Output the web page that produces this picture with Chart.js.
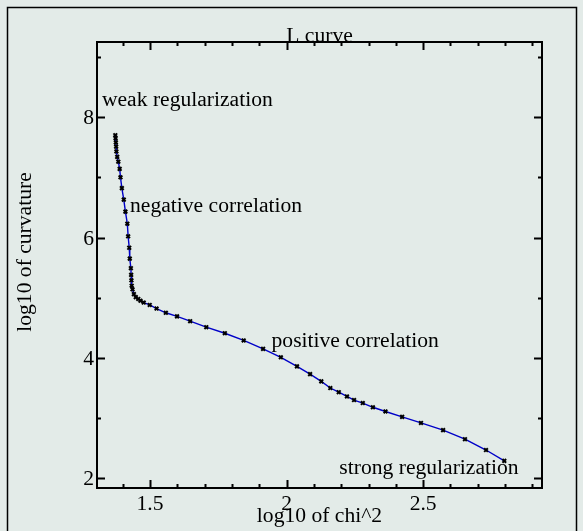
<!DOCTYPE html>
<html>
<head>
<meta charset="utf-8">
<script src="https://cdn.jsdelivr.net/npm/chart.js@4.4.0/dist/chart.umd.min.js"></script>
<style>
html, body { margin: 0; padding: 0; background: #e3ebe8; }
#wrap { width: 583px; height: 531px; }
</style>
</head>
<body>
<div id="wrap"><canvas id="lcurve" width="583" height="531"></canvas></div>
<script>
// log10 of chi^2 for each regularization step
const chiValues = [
  1.373, 1.374, 1.375, 1.376, 1.377, 1.380, 1.384, 1.389, 1.392, 1.397,
  1.404, 1.410, 1.417, 1.420, 1.424, 1.426, 1.430, 1.431, 1.432, 1.433,
  1.436, 1.441, 1.448, 1.457, 1.465, 1.477, 1.499, 1.524, 1.558, 1.599,
  1.647, 1.706, 1.774, 1.843, 1.914, 1.979, 2.038, 2.086, 2.127, 2.160,
  2.191, 2.221, 2.247, 2.279, 2.316, 2.362, 2.423, 2.492, 2.573, 2.653,
  2.730, 2.797
];
// log10 of curvature
const curvValues = [
  7.70, 7.65, 7.58, 7.51, 7.43, 7.34, 7.26, 7.14, 7.00, 6.82,
  6.63, 6.43, 6.23, 6.02, 5.83, 5.65, 5.49, 5.38, 5.29, 5.20,
  5.14, 5.06, 5.01, 4.98, 4.95, 4.92, 4.88, 4.82, 4.75, 4.69,
  4.61, 4.51, 4.41, 4.29, 4.15, 4.01, 3.86, 3.73, 3.61, 3.50,
  3.43, 3.36, 3.30, 3.25, 3.18, 3.11, 3.02, 2.92, 2.80, 2.65,
  2.47, 2.29
];
const xTicks = [1.5, 2, 2.5];
const yTicks = [2, 4, 6, 8];
const noteTexts = ["weak regularization", "negative correlation", "positive correlation", "strong regularization"];

const points = chiValues.map((v, i) => ({ x: v, y: curvValues[i] }));
const FONT = '21.6px "Liberation Serif", "DejaVu Serif", serif';

const framePlugin = {
  id: "frame",
  beforeDraw(chart) {
    const ctx = chart.ctx;
    ctx.save();
    ctx.fillStyle = "#e3ebe8";
    ctx.fillRect(0, 0, chart.width, chart.height);
    // outer frame: left, top, right (runs past the bottom edge)
    ctx.strokeStyle = "#000";
    ctx.lineWidth = 1.5;
    ctx.beginPath();
    ctx.moveTo(7.5, 531); ctx.lineTo(7.5, 7.5); ctx.lineTo(576.5, 7.5); ctx.lineTo(576.5, 531);
    ctx.stroke();
    ctx.restore();
  },
  afterDraw(chart) {
    const ctx = chart.ctx;
    const xs = chart.scales.x, ys = chart.scales.y;
    const a = chart.chartArea;
    ctx.save();
    ctx.fillStyle = "#000";
    ctx.strokeStyle = "#000";
    ctx.font = FONT;

    // notes on the curve
    const notePos = [[1.324, 8.18], [1.427, 6.424], [1.945, 4.174], [2.193, 2.067]];
    ctx.textAlign = "left";
    ctx.textBaseline = "alphabetic";
    noteTexts.forEach((t, i) => {
      ctx.fillText(t, xs.getPixelForValue(notePos[i][0]), ys.getPixelForValue(notePos[i][1]));
    });

    // box
    ctx.lineWidth = 2;
    ctx.strokeRect(a.left, a.top, a.right - a.left, a.bottom - a.top);

    // tick marks, inside on all four sides
    ctx.beginPath();
    for (let k = 14; k <= 29; k++) {
      const v = k / 10;
      const px = Math.round(xs.getPixelForValue(v)) + 0.5;
      const len = k % 5 === 0 ? 8 : 4;
      ctx.moveTo(px, a.bottom); ctx.lineTo(px, a.bottom - len);
      ctx.moveTo(px, a.top); ctx.lineTo(px, a.top + len);
    }
    for (let v = 2; v <= 9; v++) {
      const py = Math.round(ys.getPixelForValue(v)) + 0.5;
      const len = v % 2 === 0 ? 8 : 4;
      ctx.moveTo(a.left, py); ctx.lineTo(a.left + len, py);
      ctx.moveTo(a.right, py); ctx.lineTo(a.right - len, py);
    }
    ctx.stroke();

    // tick labels
    ctx.textAlign = "center";
    xTicks.forEach(v => ctx.fillText(String(v), xs.getPixelForValue(v), 510));
    ctx.textAlign = "right";
    yTicks.forEach(v => ctx.fillText(String(v), a.left - 3, ys.getPixelForValue(v) + 7));

    // titles
    const cx = (a.left + a.right) / 2;
    ctx.textAlign = "center";
    ctx.fillText("L curve", cx, 42);
    ctx.fillText("log10 of chi^2", cx, 522);
    ctx.translate(25, 252);
    ctx.rotate(-Math.PI / 2);
    ctx.textBaseline = "middle";
    ctx.fillText("log10 of curvature", 0, 0);
    ctx.restore();
  }
};

new Chart(document.getElementById("lcurve"), {
  type: "scatter",
  data: {
    datasets: [
      {
        data: points,
        showLine: true,
        borderColor: "#0000c8",
        borderWidth: 1.4,
        pointStyle: "crossRot",
        pointRadius: 2.6,
        pointBorderWidth: 2,
        pointBorderColor: "#000",
        pointBackgroundColor: "#000",
        tension: 0,
      },
    ],
  },
  options: {
    responsive: false,
    animation: false,
    devicePixelRatio: 1,
    layout: { padding: { left: 97, top: 42, right: 41, bottom: 43 } },
    plugins: { legend: { display: false }, tooltip: { enabled: false } },
    scales: {
      x: { type: "linear", display: false, min: 1.306, max: 2.935 },
      y: { type: "linear", display: false, min: 1.839, max: 9.248 },
    },
  },
  plugins: [framePlugin],
});
</script>
</body>
</html>
